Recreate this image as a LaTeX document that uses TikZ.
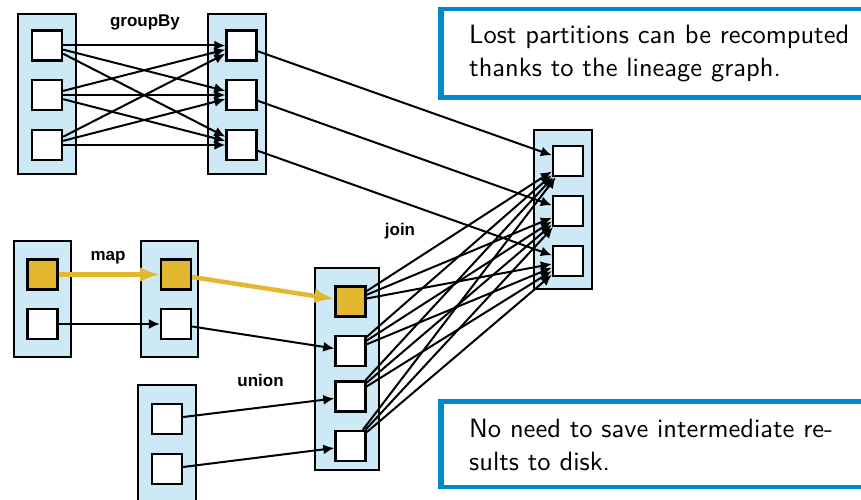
\documentclass[tikz,border=0pt]{standalone}
\usepackage{fontspec}
\newfontfamily\labfont{Liberation Sans}
\newfontfamily\callfont{Latin Modern Sans}[OpticalSize=10]
\usetikzlibrary{arrows.meta}
\definecolor{boxblue}{RGB}{204,233,245}
\definecolor{hlyellow}{RGB}{227,183,46}
\definecolor{callblue}{RGB}{0,136,204}
\begin{document}
\begin{tikzpicture}[x=1pt,y=-1pt,
  container/.style={draw=black, fill=boxblue, line width=2.4pt, inner sep=0pt},
  part/.style={draw=black, fill=white, line width=2.4pt, minimum size=30pt, inner sep=0pt},
  hlpart/.style={part, fill=hlyellow},
  dep/.style={-{Latex[length=11pt,width=10pt]}, line width=2pt, black},
  hldep/.style={-{Latex[length=20pt,width=15pt]}, line width=4.5pt, hlyellow},
  oplabel/.style={font=\labfont\bfseries\fontsize{17}{20}\selectfont, inner sep=0pt, anchor=base},
  callframe/.style={draw=callblue, fill=white, line width=4.5pt},
  callbar/.style={fill=callblue},
  calltext/.style={font=\callfont\fontsize{26.5}{33}\selectfont, inner sep=0pt, anchor=base west}]
\useasboundingbox (0,0) rectangle (861,500);
\clip (0,0) rectangle (861,500);

% containers
\node[container, minimum width=58pt, minimum height=160pt] (A) at (47,94) {};
\node[container, minimum width=58pt, minimum height=160pt] (B) at (237,94) {};
\node[container, minimum width=57pt, minimum height=116pt] (C) at (42.5,299) {};
\node[container, minimum width=57pt, minimum height=116pt] (D) at (169.5,299) {};
\node[container, minimum width=64pt, minimum height=202pt] (E) at (347,369) {};
\node[container, minimum width=58pt, minimum height=160pt] (F) at (167,465) {};
\node[container, minimum width=58pt, minimum height=159pt] (G) at (563,209.5) {};

% partitions
\node[part] (a1) at (47,45.5) {};
\node[part] (a2) at (47,95) {};
\node[part] (a3) at (47,145) {};
\node[part] (b1) at (241.5,45.5) {};
\node[part] (b2) at (241.5,95) {};
\node[part] (b3) at (241.5,145) {};
\node[hlpart] (c1) at (42.5,274.5) {};
\node[part] (c2) at (42.5,324) {};
\node[hlpart] (d1) at (176,274.5) {};
\node[part] (d2) at (176,324) {};
\node[hlpart] (e1) at (350.5,301.5) {};
\node[part] (e2) at (350.5,351) {};
\node[part] (e3) at (350.5,396.5) {};
\node[part] (e4) at (350.5,446) {};
\node[part] (f1) at (167,419) {};
\node[part] (f2) at (167,469) {};
\node[part] (g1) at (568,161) {};
\node[part] (g2) at (568,211) {};
\node[part] (g3) at (568,261) {};

% labels
\node[oplabel] (lgroup) at (145,27) {groupBy};
\node[oplabel] (lmap) at (108,260) {map};
\node[oplabel] (lunion) at (260.5,386) {union};
\node[oplabel] (ljoin) at (400,235) {join};

% groupBy
\foreach \i in {1,2,3} {
  \foreach \j in {1,2,3} {
    \draw[dep] (a\i) -- (b\j);
  }
  \draw[dep] (b\i) -- (g\i);
}
% map
\draw[hldep] (c1) -- (d1);
\draw[dep] (c2) -- (d2);
\draw[hldep] (d1) -- (e1);
\draw[dep] (d2) -- (e2);
% union
\draw[dep] (f1) -- (e3);
\draw[dep] (f2) -- (e4);
% join
\foreach \i in {1,2,3,4} {
  \foreach \j in {1,2,3} {
    \draw[dep] (e\i) -- (g\j);
  }
}

% callouts
\draw[callframe] (440.25,9.25) rectangle (900,97.75);
\fill[callbar] (438,7) rectangle (444,100);
\node[calltext] (note1) at (469,44) {\begin{tabular}[t]{@{}l@{}}Lost partitions can be recomputed\\thanks to the lineage graph.\end{tabular}};

\draw[callframe] (440.25,401.25) rectangle (900,486.75);
\fill[callbar] (438,399) rectangle (444,489);
\node[calltext] (note2) at (469,437) {\begin{tabular}[t]{@{}l@{}}No need to save intermediate re-\\sults to disk.\end{tabular}};
\end{tikzpicture}
\end{document}
